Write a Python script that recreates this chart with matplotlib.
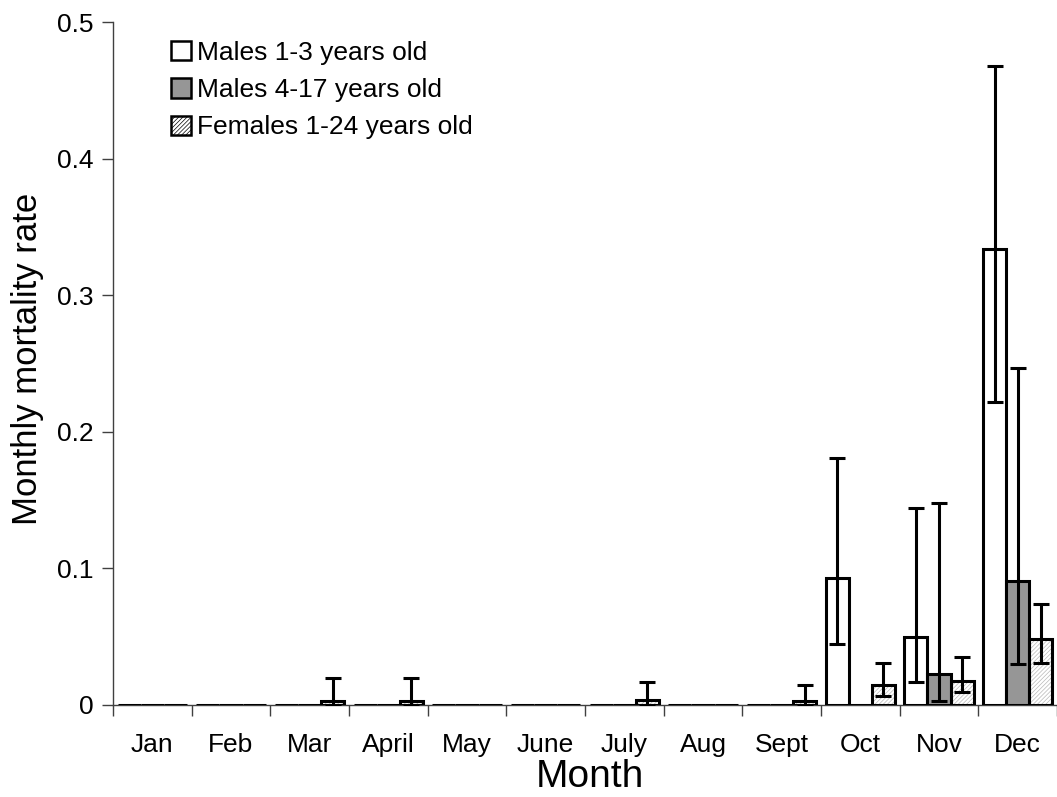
import matplotlib
matplotlib.use("Agg")
import matplotlib.pyplot as plt
import numpy as np
from matplotlib.patches import Patch

plt.rcParams['font.family'] = ['Liberation Sans', 'DejaVu Sans']
plt.rcParams['hatch.linewidth'] = 0.5

months = ['Jan', 'Feb', 'Mar', 'April', 'May', 'June', 'July', 'Aug', 'Sept', 'Oct', 'Nov', 'Dec']
series_names = ['Males 1-3 years old', 'Males 4-17 years old', 'Females 1-24 years old']

m13 = [0, 0, 0, 0, 0, 0, 0, 0, 0, 0.093, 0.050, 0.334]
m13_lo = [0, 0, 0, 0, 0, 0, 0, 0, 0, 0.045, 0.017, 0.222]
m13_hi = [0, 0, 0, 0, 0, 0, 0, 0, 0, 0.181, 0.144, 0.468]

m417 = [0, 0, 0, 0, 0, 0, 0, 0, 0, 0, 0.023, 0.091]
m417_lo = [0, 0, 0, 0, 0, 0, 0, 0, 0, 0, 0.003, 0.030]
m417_hi = [0, 0, 0, 0, 0, 0, 0, 0, 0, 0, 0.148, 0.247]

fem = [0, 0, 0.003, 0.003, 0, 0, 0.004, 0, 0.003, 0.0146, 0.0176, 0.048]
fem_lo = [0, 0, 0, 0, 0, 0, 0, 0, 0, 0.0066, 0.0095, 0.031]
fem_hi = [0, 0, 0.0196, 0.0196, 0, 0, 0.017, 0, 0.0146, 0.031, 0.035, 0.074]

W, H = 1057, 797
fig = plt.figure(figsize=(W / 100, H / 100), dpi=100)
left_px, zero_px, top_px = 113, 705, 22
ax = fig.add_axes([left_px / W, (H - zero_px) / H, 1 - left_px / W, (zero_px - top_px) / H])

x = np.arange(len(months))
bw = 0.293
group_px = 79.5
lw_edge = 2.2
hatch_col = '#b8b8b8'

def err(vals, lo, hi):
    v = np.array(vals); l = np.array(lo); h = np.array(hi)
    return v, np.vstack([v - l, h - v])

series = [(m13, m13_lo, m13_hi, 'white', None),
          (m417, m417_lo, m417_hi, '#969696', None),
          (fem, fem_lo, fem_hi, 'white', '////////')]

for i, (vals, lo, hi, fc, hatch) in enumerate(series):
    xs = x + (i - 1) * bw
    v, e = err(vals, lo, hi)
    if hatch:
        ax.bar(xs, v, bw, facecolor='white', edgecolor=hatch_col, hatch=hatch, linewidth=0, zorder=2)
        ax.bar(xs, v, bw, facecolor='none', edgecolor='black', linewidth=lw_edge, zorder=3)
    else:
        ax.bar(xs, v, bw, facecolor=fc, edgecolor='black', linewidth=lw_edge, zorder=3)
    mask = v > 0
    ax.errorbar(xs[mask], v[mask], yerr=e[:, mask], fmt='none', ecolor='black',
                elinewidth=2.2, capsize=6, capthick=2.2, zorder=4)

ax.set_ylim(0, 0.5)
ax.set_xlim(-0.5, -0.5 + (W - left_px) / group_px)
ax.set_yticks([0, 0.1, 0.2, 0.3, 0.4, 0.5])
ax.set_yticklabels(['0', '0.1', '0.2', '0.3', '0.4', '0.5'])
ax.set_xticks(x)
ax.set_xticklabels(months)
ax.set_xticks(np.arange(len(months) + 1) - 0.5, minor=True)
ax.tick_params(axis='x', which='major', length=0, pad=20, labelsize=19)
ax.tick_params(axis='x', which='minor', length=8, width=1, color='#404040')
ax.tick_params(axis='y', length=8, width=1, color='#404040', labelsize=19, pad=6)

for s in ['top', 'right']:
    ax.spines[s].set_visible(False)
for s in ['left', 'bottom']:
    ax.spines[s].set_color('#404040')
    ax.spines[s].set_linewidth(1)

fig.text(28 / W, 1 - 359 / H, 'Monthly mortality rate', fontsize=25, rotation=90,
         ha='center', va='center')
fig.text(590 / W, 1 - 777 / H, 'Month', fontsize=28, ha='center', va='center')

handles = [Patch(facecolor='white', edgecolor='black', linewidth=1.8),
           Patch(facecolor='#969696', edgecolor='black', linewidth=1.8),
           Patch(facecolor='white', edgecolor=hatch_col, hatch='////////', linewidth=1.8)]
leg = ax.legend(handles, series_names, loc='upper left', bbox_to_anchor=(171 / W, 1 - 41 / H),
                bbox_transform=fig.transFigure, frameon=False, fontsize=19,
                handlelength=0.75, handleheight=0.75, handletextpad=0.25, labelspacing=0.5,
                borderpad=0, borderaxespad=0)
for p in leg.get_patches()[2:]:
    p.set_edgecolor('black')

fig.savefig('out.png', dpi=100)
